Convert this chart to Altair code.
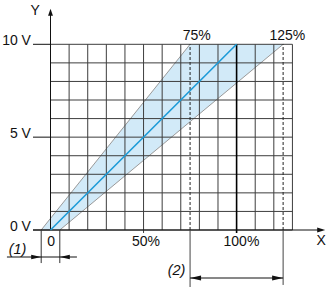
import altair as alt
import pandas as pd

# ---------------- data ----------------
grid_pct = [0, 10, 20, 30, 40, 50, 60, 70, 80, 90, 100, 110, 120, 130]
grid_volt = [0, 1, 2, 3, 4, 5, 6, 7, 8, 9, 10]
band_volt = [0, 10]
band_low_pct = [-5, 75]
band_high_pct = [5, 125]
nominal_pct = [0, 100]
nominal_volt = [0, 10]
y_label_text = ["0 V", "5 V", "10 V"]
y_label_volt = [0, 5, 10]
x_label_text = ["0", "50%", "100%"]
x_label_pct = [0, 50, 100]
gain_label_text = ["75%", "125%"]
gain_limits_pct = [75, 125]
offset_limits_pct = [-5, 5]

# ---------------- scales ----------------
XS = alt.Scale(domain=[-27.136, 149.651], nice=False, zero=False)
YS = alt.Scale(domain=[-3.231, 12.386], nice=False, zero=False)
FONT = "Liberation Sans"
GRID = "#3d3d3d"


def X(f):
    return alt.X(f, type="quantitative", scale=XS, axis=None)


def Y(f):
    return alt.Y(f, type="quantitative", scale=YS, axis=None)


def seg(rows, **kw):
    df = pd.DataFrame(rows, columns=["x0", "x1", "y0", "y1"])
    return alt.Chart(df).mark_rule(**kw).encode(
        x=X("x0"), x2="x1", y=Y("y0"), y2="y1"
    )


def arrow(px, py, path, size, color="#111"):
    df = pd.DataFrame({"x": [px], "y": [py]})
    return alt.Chart(df).mark_point(
        shape=path, size=size, filled=True, color=color, opacity=1, strokeWidth=0
    ).encode(x=X("x"), y=Y("y"))


def text(labels, xs, ys, align="center", italic=False, size=14):
    df = pd.DataFrame({"t": labels, "x": xs, "y": ys})
    return alt.Chart(df).mark_text(
        align=align, baseline="alphabetic", font=FONT, fontSize=size,
        fontStyle="italic" if italic else "normal", color="#111"
    ).encode(x=X("x"), y=Y("y"), text="t:N")


# band
band_df = pd.DataFrame({"v": band_volt, "lo": band_low_pct, "hi": band_high_pct})
band = alt.Chart(band_df).mark_area(orient="horizontal", color="#d2eaf8", opacity=1).encode(
    y=Y("v"), x=X("lo"), x2="hi"
)
band_edges = seg(
    [[band_low_pct[0], band_low_pct[1], band_volt[0], band_volt[1]],
     [band_high_pct[0], band_high_pct[1], band_volt[0], band_volt[1]]],
    color="#9a9a9a", strokeWidth=1,
)

# grid
vgrid = seg([[p, p, 0, 10] for p in grid_pct if p != 100], color=GRID, strokeWidth=1)
hgrid = seg([[0, 130, v, v] for v in grid_volt], color=GRID, strokeWidth=1)
line100 = seg([[100, 100, -0.16, 10]], color="#000", strokeWidth=1.6)
tick50 = seg([[50, 50, -0.16, 0]], color=GRID, strokeWidth=1)

# axes
y_axis = seg([[0, 0, 0, 11.6]], color="#111", strokeWidth=1)
x_axis = seg([[-9.4, 146, 0, 0]], color="#111", strokeWidth=1)
y_ticks = seg([[-9.4, 0, v, v] for v in y_label_volt], color="#111", strokeWidth=1)
y_arrow = arrow(0, 11.92, "M0,0L-0.7,2L0.7,2Z", 49)
x_arrow = arrow(147.6, 0, "M0,0L-2,-0.62L-2,0.62Z", 64)

# gain tolerance dashed lines
dashed = seg([[p, p, 0, 10] for p in gain_limits_pct], color="#222", strokeWidth=1,
             strokeDash=[3, 2])
gain_ext = seg([[gain_limits_pct[0], gain_limits_pct[0], 0, -3.07],
                [gain_limits_pct[1], gain_limits_pct[1], 0, -2.96]],
               color="#444", strokeWidth=1)
gain_dim = seg([[gain_limits_pct[0], gain_limits_pct[1], -2.585, -2.585]],
               color="#111", strokeWidth=1)
gain_a1 = arrow(gain_limits_pct[0], -2.585, "M0,0L2,-0.45L2,0.45Z", 121)
gain_a2 = arrow(gain_limits_pct[1], -2.585, "M0,0L-2,-0.45L-2,0.45Z", 121)

# offset tolerance
off_ext = seg([[p, p, 0, -1.78] for p in offset_limits_pct], color="#333", strokeWidth=1)
off_dim = seg([[-23.4, 14.2, -1.454, -1.454]], color="#111", strokeWidth=1)
off_a1 = arrow(offset_limits_pct[0], -1.454, "M0,0L-2,-0.45L-2,0.45Z", 100)
off_a2 = arrow(offset_limits_pct[1], -1.454, "M0,0L2,-0.45L2,0.45Z", 100)

# nominal characteristic
nom_df = pd.DataFrame({"p": nominal_pct, "v": nominal_volt})
nominal = alt.Chart(nom_df).mark_line(color="#1c9bd8", strokeWidth=1.6).encode(
    x=X("p"), y=Y("v")
)

# texts
t_y = text(y_label_text, [-10.5] * 3, [v - 0.04 for v in y_label_volt], align="right")
t_x = text(x_label_text, [0.3, 51.3, 102.6], [-0.86] * 3)
t_gain = text(gain_label_text, [78.6, 127.3], [10.23, 10.23])
t_Y = text(["Y"], [-8.3], [11.58], size=14)
t_X = text(["X"], [145.4], [-0.81], size=14)
t_1 = text(["(1)"], [-17.7], [-1.29], italic=True, size=14.5)
t_2 = text(["(2)"], [67.7], [-2.42], italic=True, size=14.5)

chart = alt.layer(
    band, band_edges, vgrid, hgrid, line100, tick50, dashed,
    y_axis, x_axis, y_ticks, y_arrow, x_arrow,
    gain_ext, gain_dim, gain_a1, gain_a2,
    off_ext, off_dim, off_a1, off_a2,
    nominal, t_y, t_x, t_gain, t_Y, t_X, t_1, t_2,
).properties(
    width=329, height=290, autosize=alt.AutoSizeParams(type="none"), padding=0,
    background="white",
).configure_view(strokeWidth=0)

chart.save("out.html", embed_options={"renderer": "svg", "actions": False})
